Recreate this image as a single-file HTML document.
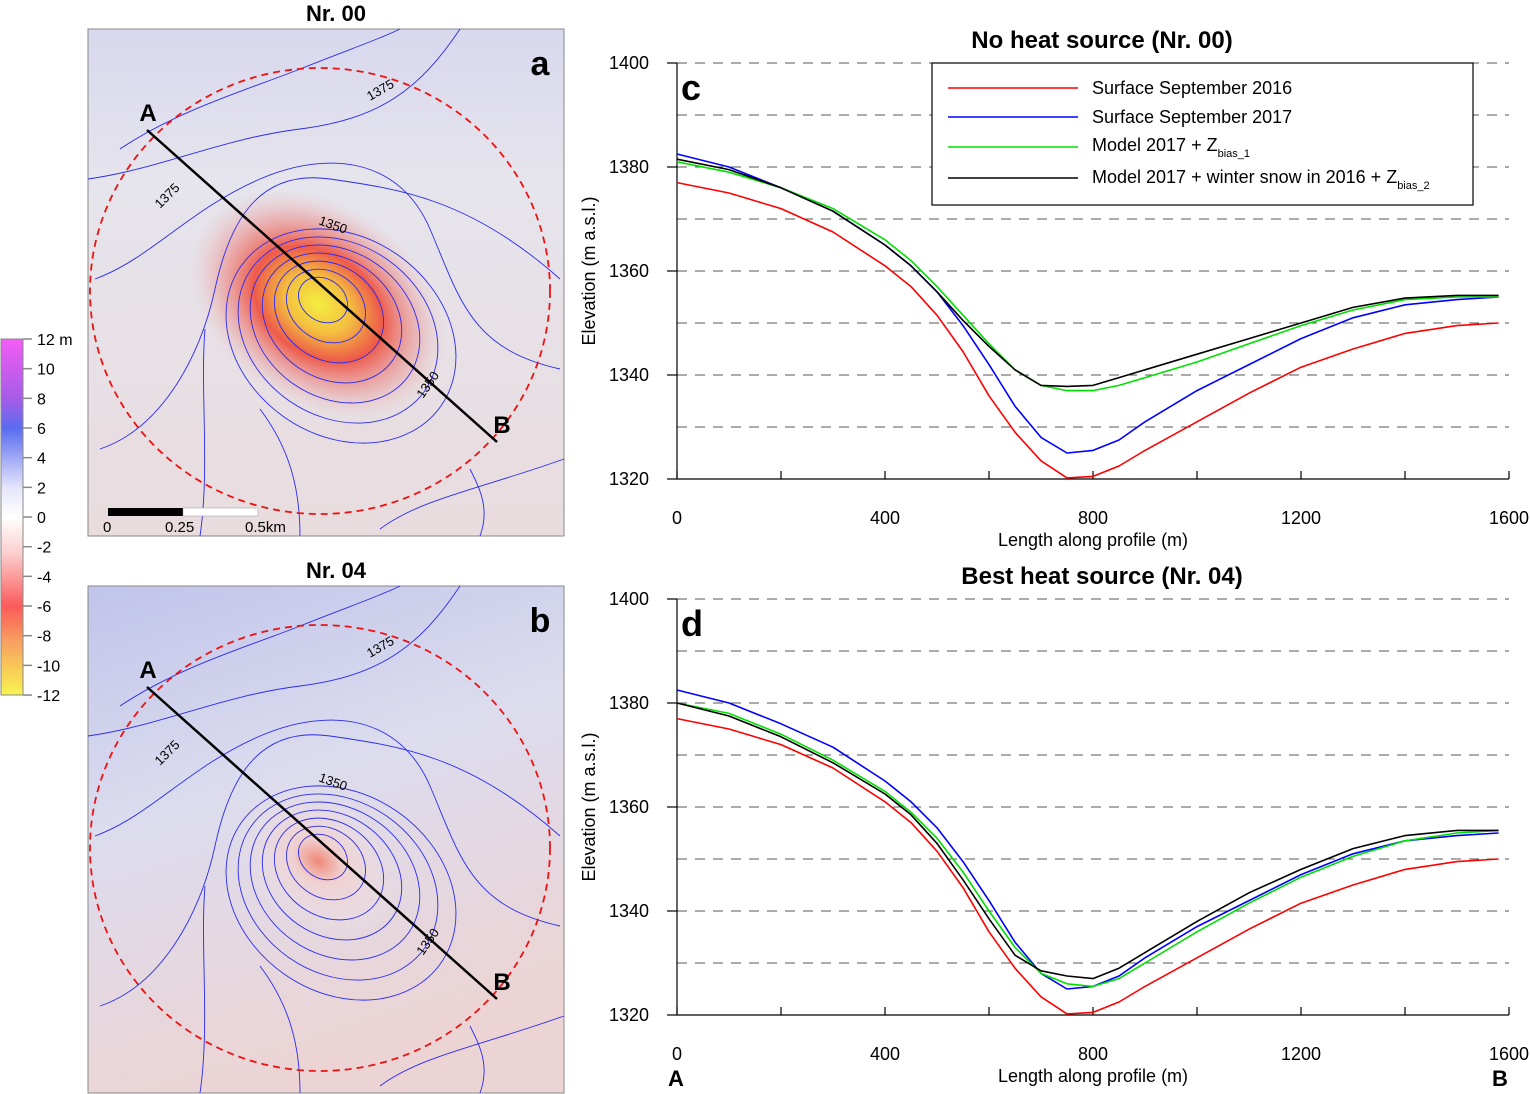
<!DOCTYPE html>
<html><head><meta charset="utf-8"><style>
html,body{margin:0;padding:0;background:#fff;}
svg{display:block;font-family:"Liberation Sans",Arial,sans-serif;}
</style></head><body>
<svg id="root" width="1530" height="1094" viewBox="0 0 1530 1094">
<defs>
<linearGradient id="cbar" x1="0" y1="0" x2="0" y2="1">
<stop offset="0" stop-color="#f45cf4"/><stop offset="0.17" stop-color="#a45ce8"/>
<stop offset="0.25" stop-color="#5a6cf0"/><stop offset="0.42" stop-color="#e6e6fa"/>
<stop offset="0.5" stop-color="#ffffff"/><stop offset="0.6" stop-color="#fcd0d0"/>
<stop offset="0.75" stop-color="#fa5a5a"/><stop offset="0.85" stop-color="#f8a060"/>
<stop offset="1" stop-color="#f8f450"/>
</linearGradient>
<radialGradient id="holeA" cx="0.5" cy="0.5" r="0.5">
<stop offset="0" stop-color="#f4ee40"/><stop offset="0.25" stop-color="#f4c040"/>
<stop offset="0.5" stop-color="#ee5a4a"/><stop offset="0.78" stop-color="#eaa0a0" stop-opacity="0.6"/>
<stop offset="1" stop-color="#e8c8c8" stop-opacity="0"/>
</radialGradient>
<radialGradient id="holeB" cx="0.5" cy="0.5" r="0.5">
<stop offset="0" stop-color="#f08878"/><stop offset="0.3" stop-color="#f0d0d0"/>
<stop offset="1" stop-color="#ece4e8" stop-opacity="0"/>
</radialGradient>
<linearGradient id="bgA" x1="0" y1="0" x2="0" y2="1">
<stop offset="0" stop-color="#d8d8ee"/><stop offset="0.3" stop-color="#e6e4ec"/>
<stop offset="1" stop-color="#e8dcde"/>
</linearGradient>
<linearGradient id="bgB" x1="0" y1="0" x2="0.3" y2="1">
<stop offset="0" stop-color="#c0c4ea"/><stop offset="0.45" stop-color="#dcdcee"/>
<stop offset="1" stop-color="#ecd4d4"/>
</linearGradient>
</defs>

<g>
<rect x="1" y="339" width="22" height="356" fill="url(#cbar)" stroke="#888" stroke-width="1"/>
<g id="cbticks" font-size="16" fill="#000"></g>
</g>

<g id="maps"></g>
<g id="chartC"></g>
<g id="chartD"></g>

<g font-size="18">
<rect x="932" y="63" width="541" height="142" fill="#fff" stroke="#000" stroke-width="1.2"/>
<line x1="948" y1="88" x2="1078" y2="88" stroke="#ff0000" stroke-width="1.5"/>
<text x="1092" y="94">Surface September 2016</text>
<line x1="948" y1="117" x2="1078" y2="117" stroke="#0000ff" stroke-width="1.5"/>
<text x="1092" y="123">Surface September 2017</text>
<line x1="948" y1="147" x2="1078" y2="147" stroke="#00e000" stroke-width="1.5"/>
<text x="1092" y="151">Model 2017 + Z<tspan font-size="11" dy="6">bias_1</tspan></text>
<line x1="948" y1="178" x2="1078" y2="178" stroke="#000" stroke-width="1.5"/>
<text x="1092" y="183">Model 2017 + winter snow in 2016 + Z<tspan font-size="11" dy="6">bias_2</tspan></text>
</g>
<text x="676" y="1086" font-size="22" font-weight="bold" text-anchor="middle">A</text>
<text x="1500" y="1086" font-size="22" font-weight="bold" text-anchor="middle">B</text>
</svg>
<script>
const NS='http://www.w3.org/2000/svg';
function mk(tag,attrs,parent,txt){const e=document.createElementNS(NS,tag);for(const k in attrs)e.setAttribute(k,attrs[k]);if(txt!==undefined)e.textContent=txt;parent.appendChild(e);return e;}

const cbLabels=['12 m','10','8','6','4','2','0','-2','-4','-6','-8','-10','-12'];
const cbg=document.getElementById('cbticks');
cbLabels.forEach((l,i)=>{const y=339+i*29.67;
 mk('line',{x1:23,y1:y,x2:32,y2:y,stroke:'#888','stroke-width':1.5},cbg);
 const t=mk('text',{x:37,y:y+6},cbg,l);
 
 
});

const maps=document.getElementById('maps');
function drawMap(oy,bg,hole,title,letter,holeRx,holeRy){
 const g=mk('g',{},maps);
 
 
 mk('rect',{x:88,y:oy,width:476,height:507,fill:bg,stroke:'#888','stroke-width':1},g);
 mk('ellipse',{cx:318,cy:oy+275,rx:holeRx,ry:holeRy,fill:hole,transform:`rotate(35 318 ${oy+275})`},g);
 const cg=mk('g',{fill:'none',stroke:'#2a2aee','stroke-width':0.9},g);
 for(let i=1;i<=7;i++){mk('ellipse',{cx:320+i*3,cy:oy+265+i*6,rx:10+i*16,ry:8+i*13,transform:`rotate(35 ${320+i*3} ${oy+265+i*6})`},cg);}
 mk('path',{d:`M120 ${oy+120} C180 ${oy+80} 250 ${oy+60} 300 ${oy+40} S380 ${oy+10} 400 ${oy}`},cg);
 mk('path',{d:`M88 ${oy+150} C160 ${oy+140} 220 ${oy+110} 300 ${oy+100} S420 ${oy+60} 460 ${oy}`},cg);
 mk('path',{d:`M95 ${oy+250} C150 ${oy+230} 190 ${oy+180} 260 ${oy+150} S400 ${oy+130} 430 ${oy+200} S470 ${oy+320} 560 ${oy+340}`},cg);
 mk('path',{d:`M100 ${oy+420} C160 ${oy+400} 200 ${oy+330} 215 ${oy+260} S260 ${oy+140} 330 ${oy+150} S470 ${oy+170} 560 ${oy+250}`},cg);
 mk('path',{d:`M200 ${oy+507} C210 ${oy+440} 200 ${oy+360} 205 ${oy+300}`},cg);
 mk('path',{d:`M300 ${oy+507} C300 ${oy+460} 290 ${oy+420} 260 ${oy+380}`},cg);
 mk('path',{d:`M380 ${oy+500} C420 ${oy+470} 480 ${oy+460} 564 ${oy+430}`},cg);
 mk('path',{d:`M480 ${oy+507} C490 ${oy+480} 480 ${oy+460} 470 ${oy+440}`},cg);
 mk('ellipse',{cx:320,cy:oy+262,rx:230,ry:223,fill:'none',stroke:'#ee1111','stroke-width':1.8,'stroke-dasharray':'7 5'},g);
 mk('line',{x1:147,y1:oy+101,x2:497,y2:oy+413,stroke:'#000','stroke-width':2.5},g);
 mk('text',{x:148,y:oy+92,'font-size':24,'font-weight':'bold','text-anchor':'middle'},g,'A');
 mk('text',{x:502,y:oy+404,'font-size':24,'font-weight':'bold','text-anchor':'middle'},g,'B');
 mk('text',{x:540,y:oy+46,'font-size':34,'font-weight':'bold','text-anchor':'middle'},g,letter);
 mk('text',{x:336,y:oy-8,'font-size':22,'font-weight':'bold','text-anchor':'middle'},g,title);
 mk('text',{x:370,y:oy+72,'font-size':13,transform:`rotate(-30 370 ${oy+72})`},g,'1375');
 mk('text',{x:160,y:oy+180,'font-size':13,transform:`rotate(-45 160 ${oy+180})`},g,'1375');
 mk('text',{x:318,y:oy+195,'font-size':13,transform:`rotate(20 318 ${oy+195})`},g,'1350');
 mk('text',{x:423,y:oy+370,'font-size':13,transform:`rotate(-55 423 ${oy+370})`},g,'1350');
 return g;
}
const ga=drawMap(29,'url(#bgA)','url(#holeA)','Nr. 00','a',140,100);
drawMap(586,'url(#bgB)','url(#holeB)','Nr. 04','b',90,65);
mk('rect',{x:108,y:508,width:75,height:8,fill:'#000'},ga);
mk('rect',{x:183,y:508,width:75,height:8,fill:'#fff',stroke:'#999','stroke-width':0.5},ga);
mk('text',{x:103,y:532,'font-size':15},ga,'0');
mk('text',{x:165,y:532,'font-size':15},ga,'0.25');
mk('text',{x:245,y:532,'font-size':15},ga,'0.5km');

const xs=[0,100,200,300,400,450,500,550,600,650,700,750,800,850,900,1000,1100,1200,1300,1400,1500,1580];
const red=[1377,1375,1372,1367.5,1361,1357,1351.5,1344.5,1336,1329,1323.5,1320.2,1320.5,1322.5,1325.5,1331,1336.5,1341.5,1345,1348,1349.5,1350];
const blue=[1382.5,1380,1376,1371.5,1365,1361,1356,1349.5,1342,1334,1328,1325,1325.5,1327.5,1331,1337,1342,1347,1351,1353.5,1354.5,1355];
const greenC=[1381,1379,1376,1372,1366,1362,1357,1351.5,1346,1341,1338,1337,1337,1338,1339.5,1342.5,1346,1349.5,1352.5,1354.5,1355,1355];
const blackC=[1381.5,1379.5,1376,1371.5,1365,1361,1356,1350.5,1345.5,1341,1338,1337.8,1338,1339.5,1341,1344,1347,1350,1353,1354.8,1355.3,1355.3];
const greenD=[1380,1378,1374,1369,1363,1359,1354,1347.5,1340,1333,1328,1326,1325.5,1327,1330,1336,1341.5,1346.5,1350.5,1353.5,1355,1355.5];
const blackD=[1380,1377.5,1373.5,1368.5,1362.5,1358.5,1353,1346,1338.5,1331.5,1328.5,1327.5,1327,1329,1332,1338,1343.5,1348,1352,1354.5,1355.5,1355.5];
const yTicks=[1320,1340,1360,1380,1400];
const xTicks=[0,400,800,1200,1600];

function chart(id,top,title,letter,series){
 const g=document.getElementById(id);
 
 
 const X=v=>677+v*(832/1600), Y=v=>top+(1400-v)*5.2;
 for(let v=1320;v<=1400;v+=10){const l=mk('line',{x1:677,y1:Y(v),x2:1509,y2:Y(v),stroke:'#555','stroke-width':1,'stroke-dasharray':'10 8'},g);
  }
 mk('line',{x1:677,y1:Y(1400),x2:677,y2:Y(1320),stroke:'#000','stroke-width':1.2},g);
 mk('line',{x1:677,y1:Y(1320),x2:1509,y2:Y(1320),stroke:'#000','stroke-width':1.2},g);
 for(let v=0;v<=1600;v+=200)mk('line',{x1:X(v),y1:Y(1320),x2:X(v),y2:Y(1320)-8,stroke:'#000','stroke-width':1.2},g);
 for(let v=1320;v<=1400;v+=20)mk('line',{x1:667,y1:Y(v),x2:677,y2:Y(v),stroke:'#000','stroke-width':1.2},g);
 yTicks.forEach(v=>{const t=mk('text',{x:649,y:Y(v)+6,'font-size':18,'text-anchor':'end'},g,String(v));
  });
 xTicks.forEach(v=>{const t=mk('text',{x:X(v),y:Y(1320)+45,'font-size':18,'text-anchor':'middle'},g,String(v));
  });
 const xt=mk('text',{x:1093,y:Y(1320)+67,'font-size':18,'text-anchor':'middle'},g,'Length along profile (m)');
 
 const yt=mk('text',{x:595,y:Y(1360),'font-size':18,'text-anchor':'middle',transform:`rotate(-90 595 ${Y(1360)})`},g,'Elevation (m a.s.l.)');
 
 const tt=mk('text',{x:1102,y:top-15,'font-size':24,'font-weight':'bold','text-anchor':'middle'},g,title);
 
 mk('text',{x:681,y:top+37,'font-size':36,'font-weight':'bold'},g,letter);
 series.forEach(([arr,col,name])=>{
  const p=mk('polyline',{points:xs.map((x,i)=>X(x)+','+Y(arr[i])).join(' '),fill:'none',stroke:col,'stroke-width':1.6,'stroke-linejoin':'round'},g);
  
 });
}
chart('chartC',63,'No heat source (Nr. 00)','c',[[red,'#ff0000','line-2016'],[blue,'#0000ff','line-2017'],[greenC,'#00e000','line-model'],[blackC,'#000','line-model-snow']]);
chart('chartD',599,'Best heat source (Nr. 04)','d',[[red,'#ff0000','line-2016'],[blue,'#0000ff','line-2017'],[greenD,'#00e000','line-model'],[blackD,'#000','line-model-snow']]);
</script>
</body></html>
